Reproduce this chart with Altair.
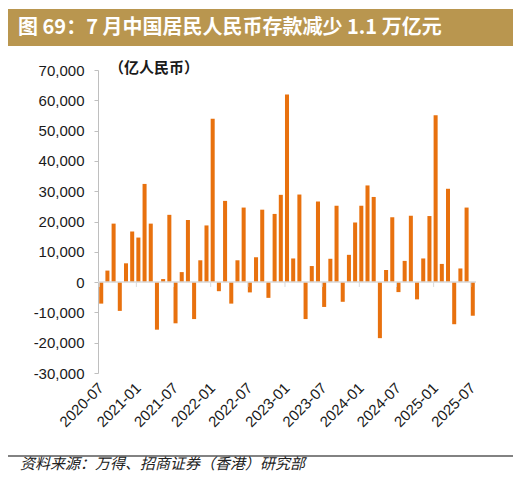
import altair as alt
import pandas as pd

# 文字
title_text = "图 69：7 月中国居民人民币存款减少 1.1 万亿元"
unit_text = "（亿人民币）"
source_text = "资料来源：万得、招商证券（香港）研究部"

# 月份 2020-07 ~ 2025-07
months = [f"{y}-{m:02d}" for y in range(2020, 2026) for m in range(1, 13)][6:6 + 61]

# 居民人民币存款月度增量（亿元，读图估计）
deposit_change = [
    -7100, 3800, 19300, -9500, 6200, 16700,
    14700, 32400, 19300, -15700, 1000, 22200,
    -13600, 3300, 20500, -12200, 7200, 18700,
    53900, -3000, 26800, -7100, 7200, 24600,
    -3400, 8200, 23900, -5200, 22500, 28800,
    61900, 7800, 28900, -12200, 5300, 26600,
    -8200, 7700, 25200, -6500, 9000, 19700,
    25200, 31900, 28100, -18500, 4000, 21400,
    -3300, 7000, 21900, -5700, 7800, 21800,
    55100, 6000, 30800, -13900, 4500, 24600,
    -11100,
]

label_months = months[::6]
y_ticks = list(range(-30000, 70001, 10000))

df = pd.DataFrame({"month": months, "value": deposit_change})

W, H = 378, 303
BAR = "#E8710E"
GOLD = "#B9964F"
LATIN = "Liberation Sans"
CJK = "Noto Sans CJK SC"

x_scale = alt.Scale(paddingInner=0.35, paddingOuter=0.195)
y_scale = alt.Scale(domain=[-30000, 70000], nice=False)

x_axis = alt.Axis(
    values=label_months,
    labelAngle=-45,
    labelAlign="right",
    labelBaseline="middle",
    labelPadding=12,
    labelFont=LATIN,
    labelFontSize=15,
    labelColor="#1a1a1a",
    labelOverlap=False,
    ticks=False,
    domain=False,
    grid=False,
    title=None,
)
y_axis = alt.Axis(
    values=y_ticks,
    labelExpr="replace(format(datum.value, ',.0f'), '\u2212', '-')",
    labelFont=LATIN,
    labelFontSize=15,
    labelColor="#1a1a1a",
    labelPadding=10,
    labelOverlap=False,
    domainColor="#bfbfbf",
    tickColor="#bfbfbf",
    tickSize=4,
    grid=False,
    title=None,
)

bars = (
    alt.Chart(df)
    .mark_bar(color=BAR)
    .encode(
        x=alt.X("month:N", sort=months, scale=x_scale, axis=x_axis),
        y=alt.Y("value:Q", scale=y_scale, axis=y_axis),
    )
)

# 0 轴线
zero_line = (
    alt.Chart(pd.DataFrame({"value": [0]}))
    .mark_rule(color="#d9d9d9", strokeWidth=1.5)
    .encode(y=alt.Y("value:Q", scale=y_scale, axis=y_axis))
)

# 横轴刻度（每 6 个月，位于分类左边界）
tick_df = pd.DataFrame({"month": label_months, "value": 0, "tick_end": -1600})
x_ticks = (
    alt.Chart(tick_df)
    .mark_rule(color="#d9d9d9", strokeWidth=1)
    .encode(
        x=alt.X("month:N", sort=months, scale=x_scale, axis=x_axis, bandPosition=0),
        y=alt.Y("value:Q", scale=y_scale, axis=y_axis),
        y2="tick_end:Q",
    )
)

one = pd.DataFrame({"k": [0]})

band = alt.Chart(one).mark_rect(color=GOLD).encode(
    x=alt.value(-90), x2=alt.value(415), y=alt.value(-61), y2=alt.value(-24)
)
title = alt.Chart(one).mark_text(
    text=title_text, font=CJK, fontSize=20, fontWeight="bold", color="white",
    align="left", baseline="middle",
).encode(x=alt.value(-80), y=alt.value(-42))

unit = alt.Chart(one).mark_text(
    text=unit_text, font=CJK, fontSize=15, fontWeight="bold", color="#1a1a1a",
    align="left", baseline="middle",
).encode(x=alt.value(11), y=alt.value(-2))

bottom_line = alt.Chart(one).mark_rule(color="#595959", strokeWidth=1.5).encode(
    x=alt.value(-90), x2=alt.value(415), y=alt.value(386)
)
source = alt.Chart(one).mark_text(
    text=source_text, font=CJK, fontSize=15, fontStyle="italic", color="#222222",
    align="left", baseline="middle",
).encode(x=alt.value(-78), y=alt.value(394))

chart = (
    alt.layer(band, title, unit, bars, zero_line, x_ticks, bottom_line, source)
    .properties(
        width=W,
        height=H,
        padding={"left": 90, "top": 62, "right": 37, "bottom": 102},
        autosize=alt.AutoSizeParams(type="none"),
    )
    .configure_view(stroke=None)
)

chart.save("out.html", embed_options={"renderer": "svg", "actions": False})
